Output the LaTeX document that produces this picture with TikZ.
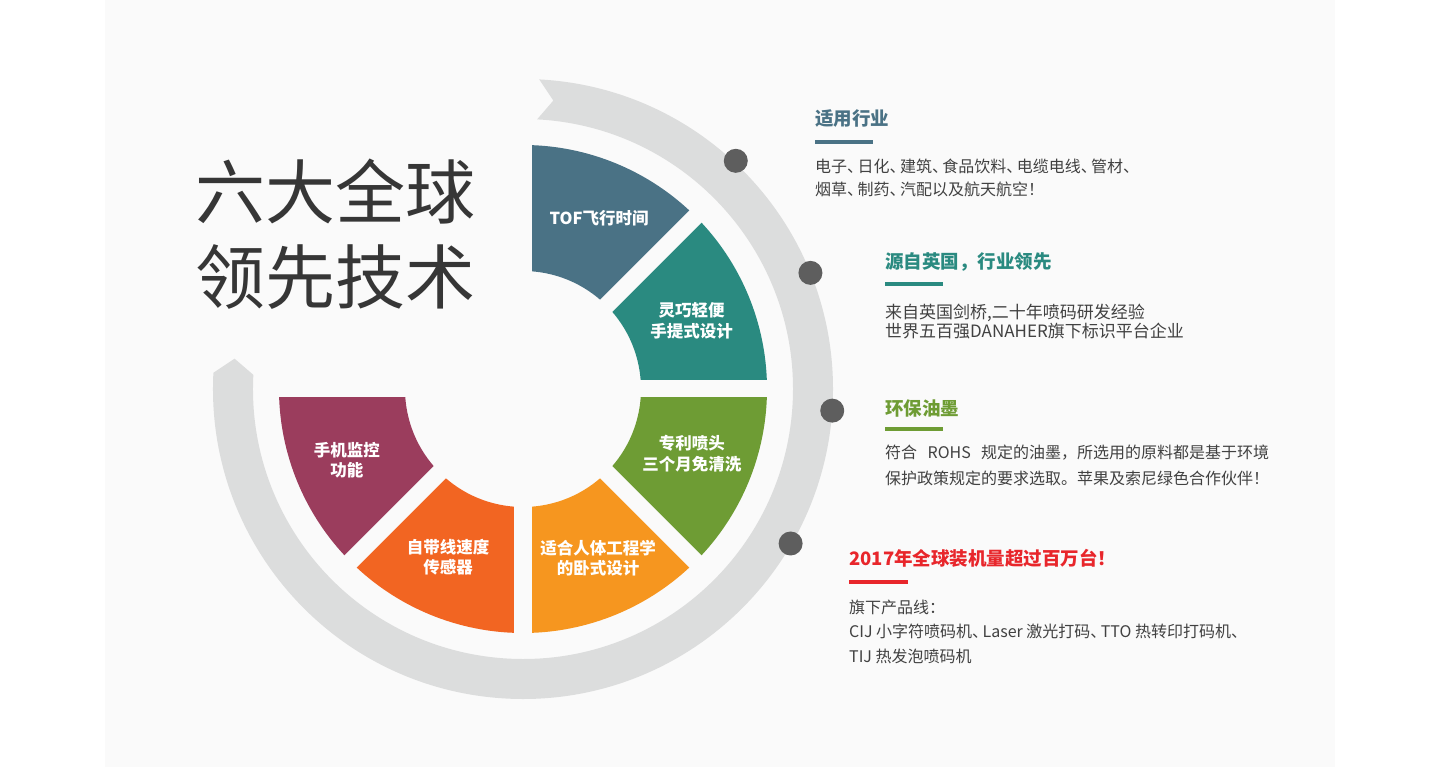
\documentclass[tikz,border=0pt]{standalone}
\usepackage{fontspec}
\setmainfont{Noto Sans CJK SC}
\definecolor{bgmid}{HTML}{FAFAFA}
\definecolor{band}{HTML}{DCDDDD}
\definecolor{dotgray}{HTML}{5E5E5E}
\definecolor{tofblue}{HTML}{4A7285}
\definecolor{tealseg}{HTML}{2A8A80}
\definecolor{greenseg}{HTML}{6E9C34}
\definecolor{orangeseg}{HTML}{F6961F}
\definecolor{redseg}{HTML}{F26522}
\definecolor{purpleseg}{HTML}{9B3D5D}
\definecolor{headred}{HTML}{E8262B}
\definecolor{bodygray}{HTML}{414141}
\definecolor{titlegray}{HTML}{363636}
\newcommand{\cjkdun}{、\kern-.35em}
\begin{document}
\begin{tikzpicture}[x=1pt,y=1pt,
  seglabel/.style={align=center, text=white, inner sep=0pt, font=\bfseries\fontsize{16.5}{20.5}\selectfont},
  head/.style={anchor=west, inner sep=0pt, font=\bfseries\fontsize{18.5}{22}\selectfont},
  body/.style={anchor=west, align=left, inner sep=0pt, text=bodygray},
  gap/.style={draw=bgmid, line width=17pt}]
\useasboundingbox (-523,-378) rectangle (917,389);
\fill[white] (-523,-378) rectangle (917,389);
\fill[bgmid] (-418,-378) rectangle (812,389);
\fill[band] (87:310) arc (87:-183:310) -- (-186:290) -- (-183:270) arc (-183:87:270) -- (84:290) -- cycle;
\fill[dotgray] ( 47:312) circle (12);
\fill[dotgray] ( 22:310) circle (12);
\fill[dotgray] ( -4:310) circle (12);
\fill[dotgray] (-30:309) circle (12);
\begin{scope}
    \fill[tofblue]   (90:244)   arc (90:45:244)    -- (45:118)   arc (45:90:118)    -- cycle;
    \fill[tealseg]   (45:244)   arc (45:0:244)     -- (0:118)    arc (0:45:118)     -- cycle;
    \fill[greenseg]  (0:244)    arc (0:-45:244)    -- (-45:118)  arc (-45:0:118)    -- cycle;
    \fill[orangeseg] (-45:244)  arc (-45:-90:244)  -- (-90:118)  arc (-90:-45:118)  -- cycle;
    \fill[redseg]    (-90:244)  arc (-90:-135:244) -- (-135:118) arc (-135:-90:118) -- cycle;
    \fill[purpleseg] (-135:244) arc (-135:-180:244) -- (-180:118) arc (-180:-135:118) -- cycle;
    \draw[gap] (0:250) -- (180:250);
    \draw[gap] (45:250) -- (225:250);
    \draw[gap] (90:250) -- (270:250);
    \draw[gap] (135:250) -- (315:250);
  \end{scope}
  \node (title) [anchor=west, align=left, inner sep=0pt, text=titlegray, font=\fontsize{70}{85}\selectfont] at (-328,154.5) {六大全球\\领先技术};
  \node (tof)    [seglabel] at (  66:187) {TOF飞行时间};
  \node (light)  [seglabel] at (  22:182) {灵巧轻便\\手提式设计};
  \node (nozzle) [seglabel] at ( -21:181) {专利喷头\\三个月免清洗};
  \node (ergo)   [seglabel] at ( -66:185) {适合人体工程学\\的卧式设计};
  \node (sensor) [seglabel] at (-114:184) {自带线速度\\传感器};
  \node (phone)  [seglabel] at (-158:190) {手机监控\\功能};
  \node (industry) [head, text=tofblue] at (292,270) {适用行业};
  \fill[tofblue] (292,245) rectangle (350,249);
  \node (industrytxt) [body, font=\fontsize{16}{23}\selectfont] at (292,211.5) {电子\cjkdun 日化\cjkdun 建筑\cjkdun 食品饮料\cjkdun 电缆电线\cjkdun 管材、\\烟草\cjkdun 制药\cjkdun 汽配以及航天航空！};
  \node (origin) [head, text=tealseg] at (362,127) {源自英国，行业领先};
  \fill[tealseg] (362,103) rectangle (420,107);
  \node (origintxt) [body, font=\fontsize{17}{19.5}\selectfont] at (362,67.5) {来自英国剑桥,二十年喷码研发经验\\世界五百强DANAHER旗下标识平台企业};
  \node (ink) [head, text=greenseg] at (362,-19) {环保油墨};
  \fill[greenseg] (362,-42) rectangle (420,-38);
  \node (inktxt) [body, font=\fontsize{16}{26}\selectfont] at (362,-76) {符合\hspace{.65em}ROHS\hspace{.65em}规定的油墨，所选用的原料都是基于环境\\保护政策规定的要求选取。苹果及索尼绿色合作伙伴！};
  \node (sales) [head, text=headred] at (326,-169) {2017年全球装机量超过百万台！};
  \fill[headred] (326,-195) rectangle (385,-191);
  \node (salestxt) [body, font=\fontsize{16}{24.5}\selectfont] at (326,-242.5) {旗下产品线：\\CIJ 小字符喷码机\cjkdun Laser 激光打码\cjkdun TTO 热转印打码机、\\TIJ 热发泡喷码机};
\end{tikzpicture}
\end{document}
